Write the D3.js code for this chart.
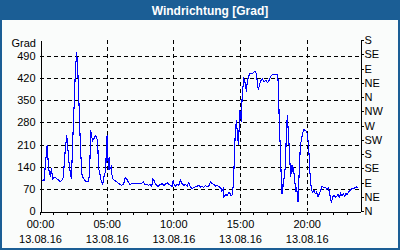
<!DOCTYPE html>
<html>
<head>
<meta charset="utf-8">
<script src="https://cdn.jsdelivr.net/npm/d3@7"></script>
<style>
    html, body { margin: 0; padding: 0; background: #fafcfb; }
    svg { display: block; }
</style>
</head>
<body>
<div id="chart"></div>
<script>
// Windrichtung, 13.08.16 (time of day -> degrees)
const times = [
    "00:03","00:18","00:32","00:39","00:47","00:51","00:57","01:06","01:15","01:24",
    "01:30","01:39","01:45","01:51","02:00","02:03","02:06","02:11","02:17","02:21",
    "02:26","02:30","02:35","02:39","02:42","02:45","02:50","02:54","02:59","03:03",
    "03:08","03:12","03:17","03:21","03:30","03:39","03:44","03:48","03:53","03:57",
    "04:02","04:06","04:11","04:15","04:20","04:23","04:29","04:35","04:41","04:45",
    "04:50","04:56","04:59","05:02","05:05","05:08","05:11","05:15","05:20","05:23",
    "05:27","05:35","05:45","05:56","06:08","06:17","06:23","06:30","06:38","06:45",
    "06:56","07:08","07:23","07:35","07:45","07:53","08:00","08:08","08:15","08:23",
    "08:27","08:33","08:39","08:51","09:02","09:09","09:17","09:24","09:32","09:39",
    "09:47","09:54","09:59","10:03","10:09","10:17","10:24","10:32","10:39","10:47",
    "10:54","11:02","11:09","11:17","11:24","11:32","11:39","11:47","11:54","12:02",
    "12:09","12:17","12:24","12:32","12:39","12:47","12:54","13:03","13:11","13:18",
    "13:26","13:33","13:38","13:44","13:48","13:56","14:03","14:11","14:15","14:20",
    "14:26","14:30","14:35","14:39","14:44","14:48","14:53","14:56","14:59","15:03",
    "15:06","15:09","15:12","15:17","15:21","15:26","15:29","15:33","15:38","15:44",
    "15:53","15:59","16:05","16:11","16:15","16:20","16:23","16:29","16:35","16:41",
    "16:48","16:56","17:03","17:11","17:20","17:27","17:35","17:42","17:50","17:54",
    "17:57","18:00","18:03","18:06","18:09","18:12","18:15","18:20","18:24","18:27",
    "18:30","18:33","18:36","18:39","18:42","18:45","18:48","18:51","18:54","18:57",
    "19:00","19:03","19:06","19:09","19:12","19:15","19:18","19:21","19:24","19:27",
    "19:30","19:33","19:36","19:39","19:42","19:47","19:51","19:57","20:02","20:06",
    "20:09","20:12","20:15","20:20","20:23","20:27","20:33","20:39","20:45","20:51",
    "20:57","21:03","21:09","21:15","21:23","21:30","21:38","21:45","21:51","21:57",
    "22:03","22:09","22:15","22:21","22:27","22:33","22:39","22:45","22:51","22:57",
    "23:03","23:09","23:15","23:23","23:30","23:38","23:45","23:53"
];
const values = [
    97, 97, 208, 134, 107, 134, 102, 107, 102, 97,
    92, 97, 107, 171, 239, 223, 192, 150, 118, 102,
    192, 276, 355, 445, 471, 503, 445, 371, 260, 192,
    118, 107, 102, 97, 92, 92, 139, 255, 234, 223,
    228, 234, 239, 234, 213, 139, 118, 97, 86, 92,
    118, 123, 223, 239, 181, 129, 171, 134, 139, 118,
    102, 97, 92, 86, 81, 86, 105, 102, 90, 84,
    88, 88, 88, 86, 92, 84, 84, 81, 84, 78,
    102, 97, 86, 78, 84, 86, 81, 84, 89, 84,
    81, 78, 97, 86, 78, 84, 81, 97, 86, 81,
    84, 78, 89, 76, 70, 74, 76, 78, 81, 76,
    79, 74, 81, 76, 78, 92, 86, 84, 78, 81,
    76, 74, 63, 70, 44, 52, 49, 60, 55, 49,
    52, 86, 171, 255, 287, 245, 208, 260, 318, 302,
    281, 350, 382, 418, 413, 387, 382, 408, 424, 434,
    434, 436, 440, 440, 424, 392, 382, 403, 413, 418,
    408, 413, 405, 413, 427, 432, 432, 432, 429, 371,
    260, 223, 165, 97, 55, 86, 76, 118, 139, 208,
    266, 302, 266, 234, 192, 150, 107, 129, 144, 123,
    139, 118, 97, 76, 60, 76, 50, 28, 76, 139,
    181, 213, 223, 234, 247, 257, 255, 253, 245, 223,
    202, 160, 118, 76, 65, 60, 65, 55, 60, 44,
    55, 65, 79, 74, 76, 70, 74, 49, 26, 44,
    49, 44, 46, 52, 44, 55, 49, 55, 46, 55,
    52, 60, 65, 70, 70, 74, 76, 74
];

const day = "2016-08-13";
const gradTicks = [0, 70, 140, 210, 280, 350, 420, 490];
const compassDegrees = [0, 45, 90, 135, 180, 225, 270, 315, 360, 405, 450, 495, 540];
const compassLabels = ["N", "NE", "E", "SE", "S", "SW", "W", "NW", "N", "NE", "E", "SE", "S"];
const labelHours = [0, 5, 10, 15, 20];
const dateLabel = "13.08.16";

const W = 400, H = 250;
const frameColor = "#1b5e95";
const font = "'Liberation Sans', Arial, sans-serif";

const parse = d3.timeParse("%Y-%m-%d %H:%M");
const data = times.map((t, i) => ({ time: parse(`${day} ${t}`), value: values[i] }));

const start = parse(`${day} 00:00`);
const end = d3.timeDay.offset(start, 1);

const svg = d3.select("#chart")
    .append("svg")
    .attr("width", W)
    .attr("height", H)
    .style("font-family", font);

// frame + title bar
svg.append("rect")
    .attr("width", W)
    .attr("height", H)
    .attr("fill", frameColor);

svg.append("rect")
    .attr("x", 2)
    .attr("y", 20)
    .attr("width", W - 4)
    .attr("height", H - 22)
    .attr("fill", "#fafcfb");

svg.append("text")
    .attr("x", 210)
    .attr("y", 15)
    .attr("text-anchor", "middle")
    .attr("fill", "#fff")
    .style("font-size", "12px")
    .style("font-weight", "bold")
    .text("Windrichtung [Grad]");

// plot area
const plot = { left: 40, right: 360, top: 40, bottom: 211 };

const x = d3.scaleTime()
    .domain([start, end])
    .range([plot.left, plot.right]);

const y = d3.scaleLinear()
    .domain([0, 540])
    .range([plot.bottom, plot.top]);

// grid
const grid = svg.append("g")
    .attr("stroke", "#000")
    .attr("stroke-dasharray", "4,3")
    .attr("shape-rendering", "crispEdges");

grid.selectAll(".hgrid")
    .data(gradTicks.filter(d => d > 0))
    .join("line")
    .attr("class", "hgrid")
    .attr("x1", plot.left)
    .attr("x2", plot.right)
    .attr("y1", d => Math.round(y(d)) + 0.5)
    .attr("y2", d => Math.round(y(d)) + 0.5);

grid.selectAll(".vgrid")
    .data(labelHours.filter(h => h > 0))
    .join("line")
    .attr("class", "vgrid")
    .attr("x1", h => Math.round(x(d3.timeHour.offset(start, h))) + 0.5)
    .attr("x2", h => Math.round(x(d3.timeHour.offset(start, h))) + 0.5)
    .attr("y1", plot.top)
    .attr("y2", plot.bottom);

// data line
const line = d3.line()
    .x(d => x(d.time))
    .y(d => y(d.value));

svg.append("path")
    .datum(data)
    .attr("fill", "none")
    .attr("stroke", "#0000ff")
    .attr("stroke-width", 1.1)
    .attr("shape-rendering", "crispEdges")
    .attr("d", line);

// axes
const xAxis = d3.axisBottom(x)
    .tickValues(d3.timeHour.range(start, end))
    .tickSize(3)
    .tickSizeOuter(0)
    .tickPadding(6)
    .tickFormat(d => labelHours.includes(d.getHours()) ? d3.timeFormat("%H:%M")(d) : "");

const gx = svg.append("g")
    .attr("transform", `translate(0,${plot.bottom + 0.5})`)
    .call(xAxis);

gx.selectAll(".tick text")
    .filter(function () { return this.textContent !== ""; })
    .each(function () {
        const t = d3.select(this);
        const hhmm = t.text();
        t.text(null);
        t.append("tspan").attr("x", 0).attr("dy", "0.71em").text(hhmm);
        t.append("tspan").attr("x", 0).attr("dy", "15px").text(dateLabel);
    })
    .attr("dy", null);

const gl = svg.append("g")
    .attr("transform", `translate(${plot.left + 0.5},0)`)
    .call(d3.axisLeft(y).tickValues(gradTicks).tickSize(0).tickSizeOuter(0).tickPadding(5));

const gr = svg.append("g")
    .attr("transform", `translate(${plot.right + 0.5},0)`)
    .call(d3.axisRight(y)
        .tickValues(compassDegrees)
        .tickFormat((d, i) => compassLabels[i])
        .tickSize(3)
        .tickSizeOuter(0)
        .tickPadding(1));

[gx, gl, gr].forEach(g => {
    g.attr("font-family", font)
        .attr("font-size", "11px")
        .attr("shape-rendering", "crispEdges");
    g.selectAll("text").attr("fill", "#000");
});

svg.append("text")
    .attr("x", 36)
    .attr("y", 47)
    .attr("text-anchor", "end")
    .style("font-size", "11px")
    .text("Grad");
</script>
</body>
</html>
